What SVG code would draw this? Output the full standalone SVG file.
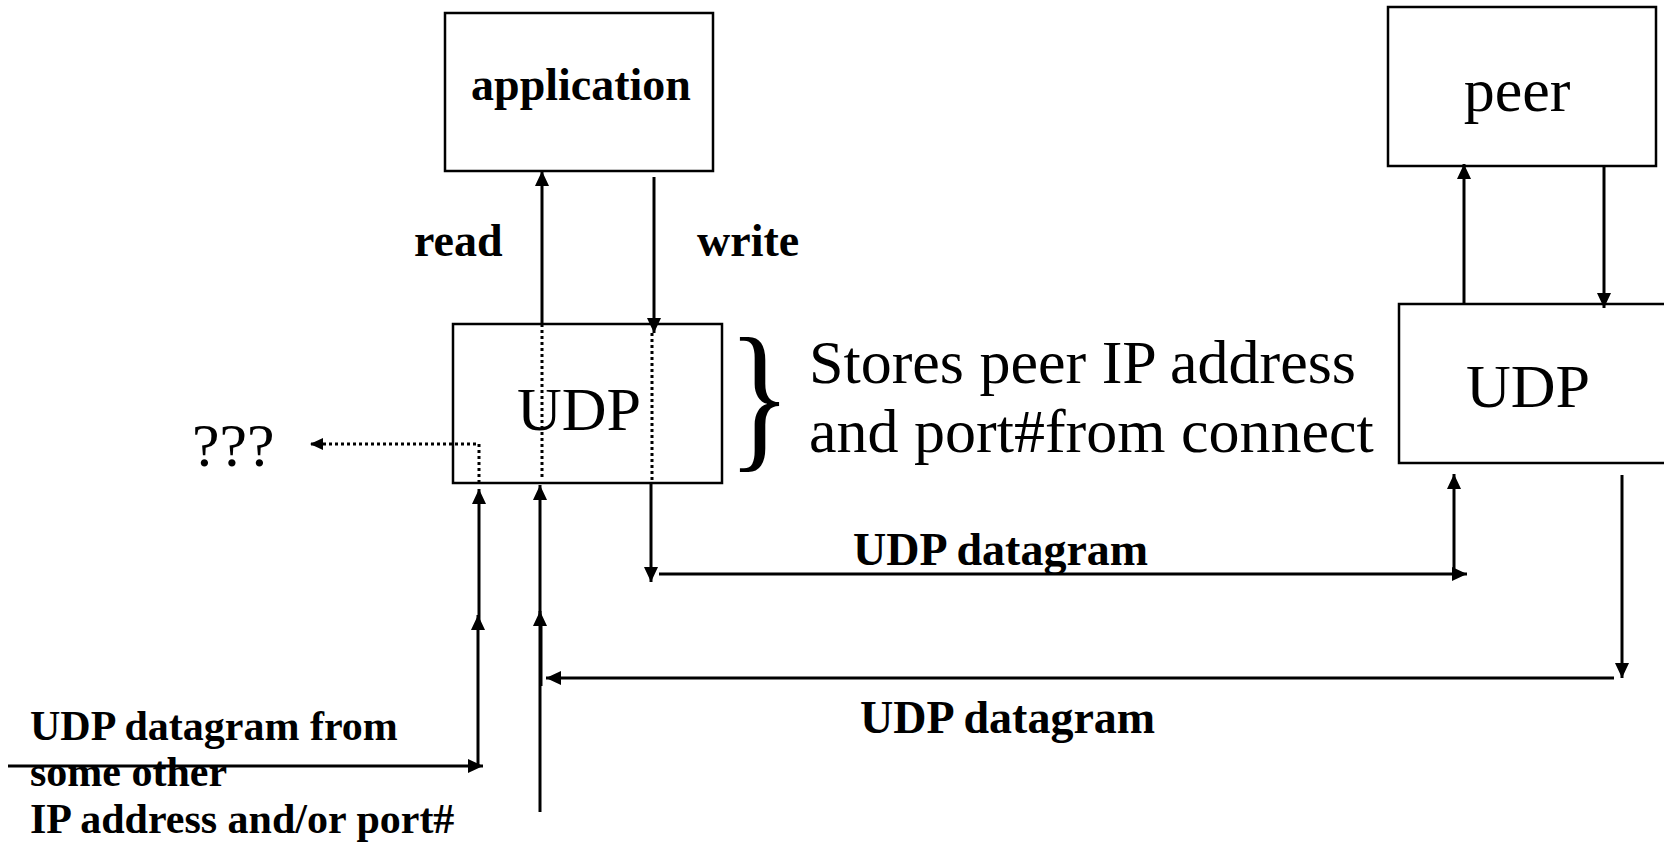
<svg xmlns="http://www.w3.org/2000/svg" width="1664" height="842" viewBox="0 0 1664 842">
<style>
.box{fill:#fff;stroke:#000;stroke-width:2.5}
.ln{fill:none;stroke:#000;stroke-width:3}
.dot{fill:none;stroke:#000;stroke-width:3;stroke-dasharray:3,3}
.b{font-family:"Liberation Serif","Times New Roman",serif;font-weight:bold;fill:#000}
.r{font-family:"Liberation Serif","Times New Roman",serif;fill:#000}
</style>
<defs>
<marker id="ah" markerUnits="userSpaceOnUse" markerWidth="16" markerHeight="15" refX="15" refY="7" orient="auto">
<path d="M0,0 L15,7 L0,14 z" fill="#000"/>
</marker>
<marker id="ahs" markerUnits="userSpaceOnUse" markerWidth="14" markerHeight="13" refX="13" refY="6" orient="auto">
<path d="M0,0 L13,6 L0,12 z" fill="#000"/>
</marker>
</defs>
<g id="application">
<rect class="box" x="445" y="13" width="268" height="158"/>
<text class="b" x="581" y="100" font-size="46" text-anchor="middle">application</text>
</g>
<g id="udp-local">
<rect class="box" x="453" y="324" width="269" height="159"/>
<text class="r" x="579" y="430" font-size="62" text-anchor="middle">UDP</text>
</g>
<g id="peer">
<rect class="box" x="1388" y="7" width="268" height="159"/>
<text class="r" x="1517" y="111" font-size="62" text-anchor="middle">peer</text>
</g>
<g id="udp-peer">
<rect class="box" x="1399" y="304" width="300" height="159"/>
<text class="r" x="1528" y="407" font-size="62" text-anchor="middle">UDP</text>
</g>
<g id="labels">
<text class="b" x="414" y="256" font-size="46">read</text>
<text class="b" x="697" y="256" font-size="46">write</text>
<text class="r" x="192" y="466" font-size="62">???</text>
<text class="r" transform="translate(728,450) scale(0.8,1)" font-size="164">}</text>
<text class="r" x="809" y="383" font-size="62">Stores peer IP address</text>
<text class="r" x="809" y="452" font-size="62">and port#from connect</text>
<text class="b" x="853" y="565" font-size="46">UDP datagram</text>
<text class="b" x="860" y="733" font-size="46">UDP datagram</text>
<text class="b" x="30" y="740" font-size="42">UDP datagram from</text>
<text class="b" x="30" y="786" font-size="42">some other</text>
<text class="b" x="30" y="833" font-size="42">IP address and/or port#</text>
</g>
<g id="connectors">
<path class="ln" d="M542,324 V171" marker-end="url(#ah)"/>
<path class="ln" d="M654,177 V333" marker-end="url(#ah)"/>
<path class="dot" d="M542,324 V478"/>
<path class="dot" d="M652,333 V483"/>
<path class="dot" d="M479,483 V444 H310" marker-end="url(#ahs)"/>
<path class="ln" d="M651,483 V582" marker-end="url(#ah)"/>
<path class="ln" d="M659,574 H1467" marker-end="url(#ah)"/>
<path class="ln" d="M1454,577 V474" marker-end="url(#ah)"/>
<path class="ln" d="M1464,304 V164" marker-end="url(#ah)"/>
<path class="ln" d="M1604,166 V308" marker-end="url(#ah)"/>
<path class="ln" d="M1622,475 V678" marker-end="url(#ah)"/>
<path class="ln" d="M1614,678 H546" marker-end="url(#ah)"/>
<path class="ln" d="M8,766 H483" marker-end="url(#ah)"/>
<path class="ln" d="M478,766 V615" marker-end="url(#ah)"/>
<path class="ln" d="M479,629 V489" marker-end="url(#ah)"/>
<path class="ln" d="M540,812 V611" marker-end="url(#ah)"/>
<path class="ln" d="M541,686 V625"/>
<path class="ln" d="M540,625 V485" marker-end="url(#ah)"/>
</g>
</svg>
